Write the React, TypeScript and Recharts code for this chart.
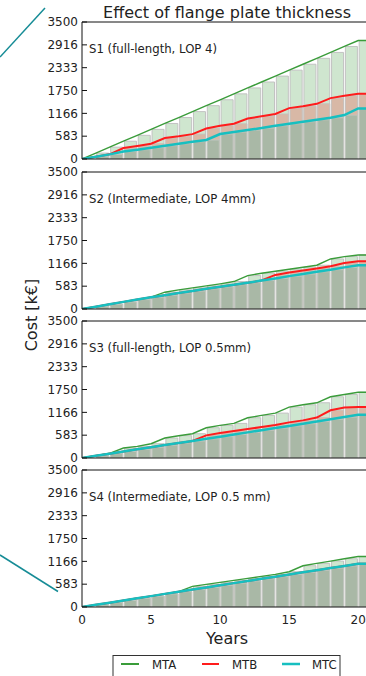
import { ComposedChart, Bar, Line, XAxis, YAxis } from 'recharts'

const YEARS = [0, 1, 2, 3, 4, 5, 6, 7, 8, 9, 10, 11, 12, 13, 14, 15, 16, 17, 18, 19, 20, 21]
const Y_TICKS = [0, 583, 1166, 1750, 2333, 2916, 3500]
const X_TICKS = [0, 5, 10, 15, 20]

// S1 (full-length, LOP 4)
const s1MTA = [0, 151, 303, 454, 605, 757, 908, 1059, 1210, 1362, 1513, 1664, 1816, 1967, 2118, 2270, 2421, 2572, 2723, 2875, 3026, 3026]
const s1MTB = [0, 60, 120, 280, 335, 390, 535, 580, 635, 780, 850, 900, 1035, 1090, 1150, 1300, 1350, 1410, 1555, 1615, 1665, 1665]
const s1MTC = [0, 60, 118, 190, 238, 289, 340, 391, 442, 485, 638, 689, 740, 790, 850, 901, 952, 1003, 1054, 1122, 1292, 1292]

// S2 (Intermediate, LOP 4mm)
const s2MTA = [0, 60, 120, 182, 240, 302, 429, 489, 540, 591, 642, 701, 854, 914, 965, 1016, 1067, 1118, 1279, 1339, 1381, 1381]
const s2MTB = [0, 60, 120, 182, 240, 302, 354, 409, 460, 515, 566, 621, 672, 727, 871, 931, 982, 1033, 1092, 1177, 1220, 1220]
const s2MTC = [0, 60, 120, 182, 240, 302, 354, 409, 460, 515, 566, 621, 672, 727, 782, 840, 894, 951, 1005, 1063, 1118, 1118]

// S3 (full-length, LOP 0.5mm)
const s3MTA = [0, 60, 120, 255, 298, 365, 510, 570, 620, 773, 833, 884, 1028, 1088, 1147, 1300, 1360, 1411, 1564, 1623, 1680, 1680]
const s3MTB = [0, 55, 110, 165, 222, 276, 330, 385, 435, 578, 638, 689, 740, 791, 842, 910, 961, 1032, 1219, 1288, 1303, 1303]
const s3MTC = [0, 55, 110, 165, 222, 276, 330, 385, 435, 490, 545, 600, 655, 710, 765, 820, 875, 930, 990, 1045, 1105, 1105]

// S4 (Intermediate, LOP 0.5 mm)
const s4MTA = [0, 55, 110, 166, 222, 278, 335, 391, 527, 578, 629, 680, 731, 782, 833, 901, 1054, 1113, 1173, 1232, 1290, 1290]
const s4MTB = [0, 55, 110, 166, 222, 278, 335, 391, 445, 500, 556, 610, 665, 720, 775, 830, 885, 940, 995, 1050, 1105, 1105]
const s4MTC = [0, 55, 110, 166, 222, 278, 335, 391, 445, 500, 556, 610, 665, 720, 775, 830, 885, 940, 995, 1050, 1105, 1105]

const FONT = '"DejaVu Sans", sans-serif'
const GREEN = '#3a9c3a'
const RED = '#ff1c1c'
const CYAN = '#17bfc0'
const PLOT_H = 137
const BAR_W = 12
const PANEL_TOPS = [22.3, 171.5, 320.7, 470]

const panels = [
  { label: 'S1 (full-length, LOP 4)', mta: s1MTA, mtb: s1MTB, mtc: s1MTC },
  { label: 'S2 (Intermediate, LOP 4mm)', mta: s2MTA, mtb: s2MTB, mtc: s2MTC },
  { label: 'S3 (full-length, LOP 0.5mm)', mta: s3MTA, mtb: s3MTB, mtc: s3MTC },
  { label: 'S4 (Intermediate, LOP 0.5 mm)', mta: s4MTA, mtb: s4MTB, mtc: s4MTC },
]

function Panel({ top, mta, mtb, mtc, showX }: { top: number; mta: number[]; mtb: number[]; mtc: number[]; showX: boolean }) {
  const data = YEARS.map((x, i) => ({ x, xb: x + 0.5, MTA: mta[i], MTB: mtb[i], MTC: mtc[i] }))
  const mTop = 8
  const mBottom = showX ? 2 : 8
  const bottomH = showX ? 28 : 1
  const h = mTop + 1 + PLOT_H + bottomH + mBottom
  const tickStyle = { fill: '#222', fontSize: 12, fontFamily: FONT }
  return (
    <div style={{ position: 'absolute', left: 0, top: top - mTop - 1 }}>
      <ComposedChart
        width={373}
        height={h}
        data={data}
        margin={{ top: mTop, right: 0, bottom: mBottom, left: 0 }}
        barGap={-BAR_W}
        barSize={BAR_W}
      >
        <XAxis
          xAxisId="x"
          dataKey="x"
          type="number"
          domain={[0, 21]}
          ticks={X_TICKS}
          interval={0}
          allowDataOverflow
          height={bottomH}
          tick={showX ? tickStyle : false}
          tickSize={0}
          tickMargin={8}
          axisLine={{ stroke: '#111' }}
          tickLine={false}
        />
        <XAxis xAxisId="bars" dataKey="xb" type="number" domain={[0, 21]} allowDataOverflow hide height={0} />
        <XAxis
          xAxisId="top"
          orientation="top"
          dataKey="x"
          type="number"
          domain={[0, 21]}
          ticks={X_TICKS}
          interval={0}
          allowDataOverflow
          height={1}
          tick={false}
          tickSize={-4}
          axisLine={{ stroke: '#111' }}
          tickLine={{ stroke: '#111' }}
        />
        <YAxis
          yAxisId="y"
          type="number"
          domain={[0, 3500]}
          ticks={Y_TICKS}
          interval={0}
          allowDataOverflow
          width={82}
          tick={tickStyle}
          tickSize={-5}
          tickMargin={9}
          axisLine={{ stroke: '#111' }}
          tickLine={{ stroke: '#111' }}
        />
        <YAxis
          yAxisId="r"
          orientation="right"
          type="number"
          domain={[0, 3500]}
          ticks={Y_TICKS}
          interval={0}
          width={1}
          tick={false}
          tickSize={-5}
          axisLine={{ stroke: '#111' }}
          tickLine={{ stroke: '#111' }}
        />
        <Bar xAxisId="bars" yAxisId="y" dataKey="MTA" fill="#cfe6cf" stroke="#c2c2c2" strokeWidth={1} isAnimationActive={false} />
        <Bar xAxisId="bars" yAxisId="y" dataKey="MTB" fill="#d8b8a6" stroke="#c8c0bb" strokeWidth={1} isAnimationActive={false} />
        <Bar xAxisId="bars" yAxisId="y" dataKey="MTC" fill="#a9b8a6" stroke="#c0c6bf" strokeWidth={1} isAnimationActive={false} />
        <Line xAxisId="x" yAxisId="y" dataKey="MTA" stroke={GREEN} strokeWidth={1.4} dot={false} type="linear" isAnimationActive={false} />
        <Line xAxisId="x" yAxisId="y" dataKey="MTB" stroke={RED} strokeWidth={2} dot={false} type="linear" isAnimationActive={false} />
        <Line xAxisId="x" yAxisId="y" dataKey="MTC" stroke={CYAN} strokeWidth={2.5} dot={false} type="linear" isAnimationActive={false} />
      </ComposedChart>
    </div>
  )
}

export default function App() {
  return (
    <div style={{ position: 'relative', width: 366, height: 676, overflow: 'hidden', background: '#fff' }}>
      <style>{'html, body { margin: 0; padding: 0; overflow: hidden; }'}</style>
      {panels.map((p, i) => (
        <Panel key={p.label} top={PANEL_TOPS[i]} mta={p.mta} mtb={p.mtb} mtc={p.mtc} showX={i === 3} />
      ))}
      <svg width={366} height={676} style={{ position: 'absolute', left: 0, top: 0, pointerEvents: 'none' }}>
        <text x={227} y={17.5} textAnchor="middle" fontFamily={FONT} fontSize={16} fill="#222">
          Effect of flange plate thickness
        </text>
        {panels.map((p, i) => (
          <text key={p.label} x={89} y={PANEL_TOPS[i] + 27} dominantBaseline="central" fontFamily={FONT} fontSize={11.7} fill="#222">
            {p.label}
          </text>
        ))}
        <text
          x={31}
          y={315}
          textAnchor="middle"
          dominantBaseline="central"
          transform="rotate(-90 31 315)"
          fontFamily={FONT}
          fontSize={16}
          fill="#222"
        >
          Cost [k€]
        </text>
        <text x={227} y={644} textAnchor="middle" fontFamily={FONT} fontSize={16} fill="#222">
          Years
        </text>
        <line x1={45} y1={8} x2={0} y2={57} stroke="#168c96" strokeWidth={1.5} />
        <line x1={0} y1={555} x2={58} y2={591.5} stroke="#168c96" strokeWidth={1.5} />
        <rect x={113} y={655.5} width={227} height={30} fill="#fff" stroke="#333" strokeWidth={1} />
        <line x1={121} y1={664} x2={139} y2={664} stroke={GREEN} strokeWidth={2} />
        <text x={152} y={664.5} dominantBaseline="central" fontFamily={FONT} fontSize={11.7} fill="#222">MTA</text>
        <line x1={202} y1={664} x2={219} y2={664} stroke={RED} strokeWidth={2} />
        <text x={232} y={664.5} dominantBaseline="central" fontFamily={FONT} fontSize={11.7} fill="#222">MTB</text>
        <line x1={282} y1={664} x2={300} y2={664} stroke={CYAN} strokeWidth={2.5} />
        <text x={312} y={664.5} dominantBaseline="central" fontFamily={FONT} fontSize={11.7} fill="#222">MTC</text>
      </svg>
    </div>
  )
}
